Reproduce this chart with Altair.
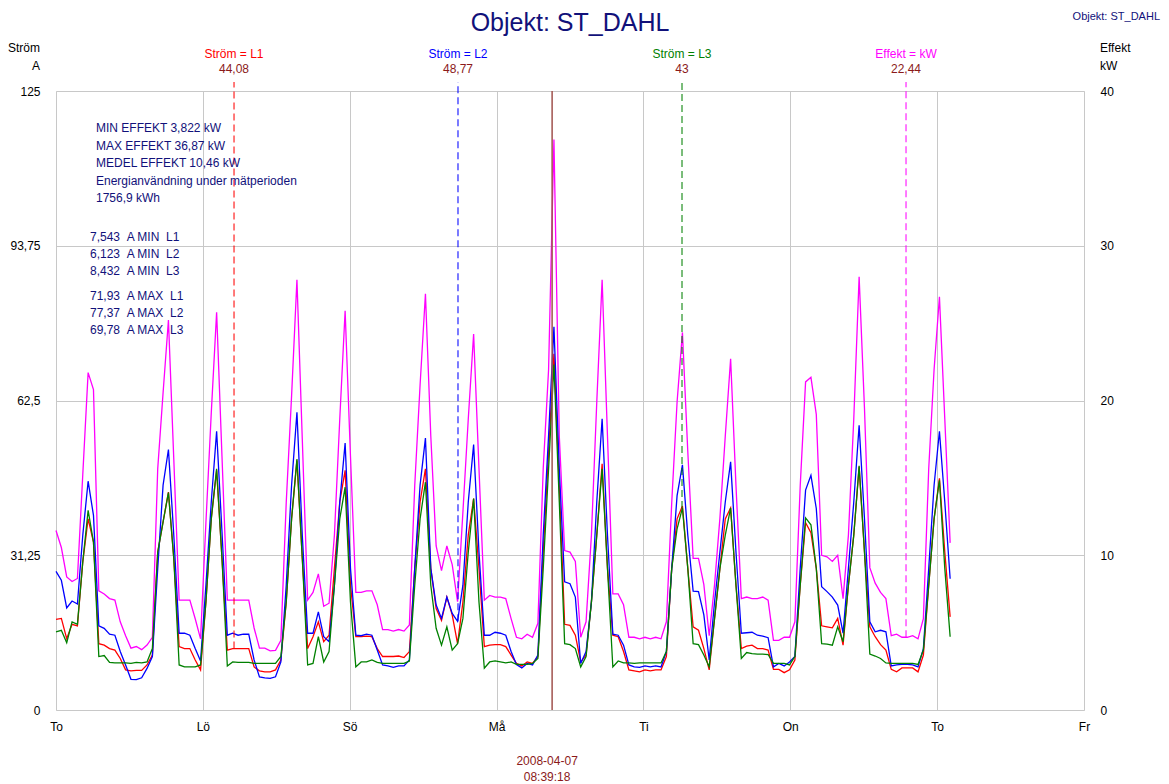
import altair as alt
import pandas as pd

# ---------------- data (hourly readings, Thu 12:00 -> next Thu 11:00) ----------------
hours = list(range(168))

L1 = [18.3, 18.5, 14.4, 17.3, 17.0, 29.9, 38.6, 33.9, 13.4, 13.1, 12.4, 12.1,
      10.4, 8.1, 7.9, 8.0, 8.0, 9.1, 11.1, 31.9, 38.0, 44.0, 30.6, 12.8,
      12.4, 12.4, 10.1, 8.1, 21.8, 38.6, 48.4, 30.6, 12.1, 12.4, 12.4, 12.4,
      12.4, 8.7, 7.9, 7.7, 7.7, 8.1, 10.1, 21.8, 38.6, 50.4, 30.6, 12.4,
      14.8, 17.8, 13.8, 15.1, 28.6, 42.0, 48.4, 25.2, 14.8, 14.8, 14.9, 14.8,
      12.4, 10.8, 10.8, 10.8, 10.9, 10.6, 11.8, 28.6, 42.0, 48.7, 28.6, 20.5,
      18.1, 22.8, 19.2, 13.4, 21.8, 35.3, 42.7, 28.6, 12.8, 13.1, 13.2, 13.2,
      12.8, 11.1, 9.4, 8.9, 9.7, 9.4, 10.8, 31.9, 52.1, 71.93, 45.4, 17.3,
      17.1, 15.1, 9.7, 11.1, 21.8, 35.3, 49.7, 28.6, 15.1, 14.8, 11.8, 8.1,
      7.9, 7.7, 8.1, 7.9, 8.1, 8.1, 10.8, 28.6, 38.6, 41.2, 28.6, 16.8,
      16.1, 12.4, 8.1, 18.5, 28.6, 38.6, 40.8, 25.2, 12.4, 12.9, 13.1, 12.4,
      12.4, 12.1, 8.2, 8.2, 7.54, 8.1, 10.1, 25.2, 37.8, 35.8, 28.6, 17.0,
      16.8, 16.6, 18.5, 13.1, 25.2, 35.3, 49.1, 31.9, 16.8, 14.8, 13.2, 12.1,
      8.2, 7.7, 8.5, 8.5, 8.5, 7.7, 11.1, 25.2, 38.6, 46.8, 31.9, 18.8]

L2 = [28.0, 26.2, 20.6, 22.0, 21.4, 35.3, 46.2, 39.3, 17.0, 16.5, 15.3, 15.1,
      11.8, 9.1, 6.2, 6.12, 6.5, 8.4, 10.8, 28.6, 45.4, 52.6, 35.3, 15.5,
      15.5, 15.1, 12.4, 9.9, 25.2, 42.0, 56.3, 36.0, 15.1, 15.5, 15.1, 15.3,
      15.3, 10.1, 6.7, 6.5, 6.4, 6.7, 9.7, 25.2, 45.4, 60.1, 35.3, 15.5,
      15.5, 19.8, 14.8, 13.8, 25.2, 42.0, 53.9, 28.6, 15.1, 15.0, 15.3, 15.1,
      12.1, 9.1, 8.9, 8.6, 8.9, 8.9, 10.1, 28.6, 45.4, 54.9, 28.6, 21.2,
      18.5, 22.8, 19.5, 17.9, 25.2, 42.0, 53.6, 31.9, 15.1, 15.1, 15.7, 15.5,
      15.1, 11.8, 9.2, 8.5, 9.4, 9.1, 11.1, 35.3, 55.4, 77.37, 48.7, 25.9,
      25.5, 22.8, 9.4, 11.8, 21.8, 42.0, 58.8, 35.3, 15.3, 15.1, 13.1, 9.1,
      8.7, 8.6, 8.9, 8.7, 8.9, 8.7, 11.8, 28.6, 43.3, 49.5, 35.3, 24.0,
      23.9, 19.2, 10.1, 21.8, 31.9, 42.0, 50.1, 31.9, 15.5, 15.6, 15.7, 15.1,
      14.9, 14.6, 8.7, 9.4, 8.9, 9.7, 10.8, 28.6, 44.4, 47.4, 40.7, 24.9,
      23.9, 22.8, 21.2, 15.5, 28.6, 42.0, 57.5, 38.6, 17.8, 15.8, 16.1, 15.8,
      8.9, 9.1, 9.2, 9.2, 9.1, 8.7, 12.4, 28.6, 45.4, 56.3, 42.0, 26.5]

L3 = [15.8, 16.1, 13.6, 17.8, 17.3, 29.9, 40.3, 33.9, 10.8, 11.0, 9.6, 9.5,
      9.5, 9.5, 9.4, 9.6, 9.5, 9.7, 12.4, 31.9, 38.0, 43.9, 30.6, 9.1,
      8.7, 8.7, 8.7, 9.1, 21.8, 38.6, 48.7, 30.6, 8.9, 9.7, 9.6, 9.6,
      9.6, 9.4, 9.4, 9.4, 9.4, 9.4, 10.8, 21.8, 38.6, 50.7, 30.6, 9.1,
      9.4, 14.8, 9.7, 11.8, 25.2, 38.6, 45.0, 21.8, 8.7, 9.7, 9.7, 10.1,
      9.6, 9.4, 9.4, 9.4, 9.4, 9.4, 9.9, 25.2, 38.6, 46.0, 25.2, 16.5,
      13.1, 16.8, 12.1, 13.4, 18.5, 31.9, 42.7, 21.8, 8.43, 9.7, 9.9, 9.7,
      9.5, 9.7, 9.2, 9.2, 9.2, 9.4, 10.4, 28.6, 48.7, 69.78, 42.0, 13.4,
      13.2, 12.4, 8.7, 10.8, 21.8, 35.3, 48.7, 28.6, 8.7, 9.9, 9.5, 9.5,
      9.4, 9.5, 9.5, 9.5, 9.5, 9.5, 11.8, 28.6, 36.6, 40.8, 28.6, 13.4,
      13.2, 11.1, 8.7, 18.5, 28.6, 35.3, 40.8, 25.2, 10.4, 11.6, 11.4, 11.3,
      11.3, 11.2, 9.4, 9.4, 9.4, 9.1, 10.8, 25.2, 38.8, 37.4, 28.6, 13.4,
      13.3, 13.1, 16.8, 13.8, 25.2, 35.3, 49.3, 31.9, 11.3, 10.9, 10.4, 9.5,
      9.4, 9.4, 9.4, 9.4, 9.4, 9.2, 12.1, 25.2, 38.6, 46.4, 28.6, 14.8]

KW = [11.6, 10.5, 8.6, 8.3, 8.5, 15.2, 21.8, 20.7, 7.7, 7.5, 7.2, 7.1,
      5.7, 4.8, 4.0, 4.1, 3.9, 4.2, 4.7, 15.6, 20.5, 25.2, 16.2, 7.1,
      7.1, 7.1, 5.9, 4.6, 12.1, 19.2, 25.7, 16.4, 7.1, 7.1, 7.1, 7.1,
      7.1, 5.3, 4.0, 4.0, 3.82, 3.85, 4.5, 13.4, 20.3, 27.8, 17.5, 7.1,
      7.6, 8.8, 6.7, 6.9, 11.3, 18.8, 25.8, 16.4, 7.6, 7.6, 7.7, 7.7,
      6.8, 5.2, 5.2, 5.1, 5.2, 5.1, 5.5, 14.5, 21.0, 26.9, 17.7, 10.6,
      9.0, 10.6, 9.4, 7.0, 12.8, 18.8, 24.3, 15.6, 7.1, 7.4, 7.3, 7.3,
      7.2, 5.9, 4.7, 4.6, 4.9, 4.7, 5.6, 15.6, 22.0, 36.87, 17.7, 10.3,
      10.2, 9.6, 4.7, 5.7, 11.3, 19.9, 27.8, 17.7, 7.5, 7.5, 6.8, 4.7,
      4.7, 4.6, 4.7, 4.6, 4.7, 4.6, 5.7, 13.4, 19.9, 24.4, 16.7, 9.8,
      9.8, 8.1, 4.8, 8.1, 12.4, 17.7, 22.7, 14.5, 7.2, 7.3, 7.2, 7.2,
      7.3, 7.1, 4.5, 4.5, 4.7, 4.7, 5.7, 14.5, 21.2, 21.5, 19.1, 10.0,
      9.9, 9.6, 10.0, 7.2, 11.3, 18.8, 28.0, 19.5, 9.2, 8.2, 7.6, 7.2,
      4.8, 4.9, 4.7, 4.7, 4.8, 4.6, 5.9, 15.6, 22.0, 26.7, 18.8, 10.8]

day_labels = ["To", "Lö", "Sö", "Må", "Ti", "On", "To", "Fr"]
day_ticks = [k * 192 / 7 for k in range(8)]
amp_ticks = [0, 31.25, 62.5, 93.75, 125]
kw_ticks = [0, 10, 20, 30, 40]

marker_series = ["L1", "L2", "L3", "kW"]
marker_hours = [33.25, 75.08, 116.92, 158.76]
marker_ends = [12.4, 17.9, 40.8, 4.7]
marker_titles = ["Ström = L1", "Ström = L2", "Ström = L3", "Effekt = kW"]
marker_readings = ["44,08", "48,77", "43", "22,44"]

cursor_hour = [92.66]
cursor_date = "2008-04-07"
cursor_time = "08:39:18"

stats_effekt = ["MIN EFFEKT 3,822 kW", "MAX EFFEKT 36,87 kW", "MEDEL EFFEKT 10,46 kW",
                "Energianvändning under mätperioden", "1756,9 kWh"]
NB = "\u00a0"
stats_min = [f"7,543{NB}{NB}A MIN{NB}{NB}L1", f"6,123{NB}{NB}A MIN{NB}{NB}L2", f"8,432{NB}{NB}A MIN{NB}{NB}L3"]
stats_max = [f"71,93{NB}{NB}A MAX{NB}{NB}L1", f"77,37{NB}{NB}A MAX{NB}{NB}L2", f"69,78{NB}{NB}A MAX{NB}{NB}L3"]

title_text = "Objekt: ST_DAHL"

# ---------------- frames ----------------
df_a = pd.DataFrame({
    "hour": hours * 3,
    "value": L1 + L2 + L3,
    "series": ["L1"] * 168 + ["L2"] * 168 + ["L3"] * 168,
})
df_k = pd.DataFrame({"hour": hours, "kw": KW})
df_markA = pd.DataFrame({"hour": marker_hours[:3], "value": marker_ends[:3], "series": marker_series[:3]})
df_markK = pd.DataFrame({"hour": marker_hours[3:], "kw": marker_ends[3:], "series": marker_series[3:]})
df_lab = pd.DataFrame({"hour": marker_hours, "title": marker_titles,
                       "reading": marker_readings, "series": marker_series})
df_cur = pd.DataFrame({"hour": cursor_hour})
df_one = pd.DataFrame({"k": [0]})

NAVY = "#11117a"
DARKRED = "#8b1a1a"
FONT = "Liberation Sans"

color_scale = alt.Scale(domain=["L1", "L2", "L3", "kW"],
                        range=["#ff0000", "#0000ff", "#008000", "#ff00ff"])

X = alt.X("hour:Q",
          scale=alt.Scale(domain=[0, 192], nice=False, zero=False),
          axis=alt.Axis(values=day_ticks, title=None, grid=True, gridColor="#c8c8c8",
                        domain=False, ticks=False, labelPadding=11, labelFontSize=12,
                        labelFlush=False, labelColor="black", labelFont=FONT,
                        labelExpr="['To','Lö','Sö','Må','Ti','On','To','Fr'][round(datum.value*7/192)]"))

YA = alt.Y("value:Q",
           scale=alt.Scale(domain=[0, 125], nice=False, zero=True),
           axis=alt.Axis(values=amp_ticks, orient="left", title=None, grid=True,
                         gridColor="#c8c8c8", domain=False, ticks=False, labelPadding=16,
                         labelFontSize=12, labelColor="black", labelFont=FONT,
                         labelExpr="replace(toString(datum.value), '.', ',')"))

YK = alt.Y("kw:Q",
           scale=alt.Scale(domain=[0, 40], nice=False, zero=True),
           axis=alt.Axis(values=kw_ticks, orient="right", title=None, grid=False,
                         domain=False, ticks=False, labelPadding=16, labelFontSize=12,
                         labelColor="black", labelFont=FONT))

COLOR = alt.Color("series:N", scale=color_scale, legend=None)

# ---------------- current layer (A) ----------------
lines_a = alt.Chart(df_a).mark_line(strokeWidth=1.3).encode(x=X, y=YA, color=COLOR, detail="series:N")

mark_a = alt.Chart(df_markA).mark_rule(strokeDash=[7, 4], strokeWidth=1.3, opacity=0.8).encode(
    x=X, y=YA, y2=alt.value(-9), color=COLOR)

lab_title = alt.Chart(df_lab).mark_text(fontSize=12, font=FONT, baseline="middle").encode(
    x=X, y=alt.value(-37), text="title:N", color=COLOR)
lab_read = alt.Chart(df_lab).mark_text(fontSize=12, font=FONT, baseline="middle", color=DARKRED).encode(
    x=X, y=alt.value(-22), text="reading:N")

cursor = alt.Chart(df_cur).mark_rule(color="#a0524d", strokeWidth=1.5).encode(x=X)
cur_date = alt.Chart(df_cur).mark_text(fontSize=12, font=FONT, color=DARKRED, dx=-5,
                                       baseline="middle").encode(
    x=X, y=alt.value(670), text=alt.value(cursor_date))
cur_time = alt.Chart(df_cur).mark_text(fontSize=12, font=FONT, color=DARKRED, dx=-5,
                                       baseline="middle").encode(
    x=X, y=alt.value(686), text=alt.value(cursor_time))

def txt(text, x, y, **kw):
    return alt.Chart(df_one).mark_text(font=FONT, **kw).encode(
        x=alt.value(x), y=alt.value(y), text=alt.value(text))

title = txt(title_text, 514, -68, fontSize=25, color=NAVY, align="center", baseline="middle")
title_small = txt(title_text, 1104, -74, fontSize=11, color=NAVY, align="right", baseline="middle")
ax_l1 = txt("Ström", -16, -43, fontSize=12, color="black", align="right", baseline="middle")
ax_l2 = txt("A", -16, -25, fontSize=12, color="black", align="right", baseline="middle")
ax_r1 = txt("Effekt", 1044, -43, fontSize=12, color="black", align="left", baseline="middle")
ax_r2 = txt("kW", 1044, -25, fontSize=12, color="black", align="left", baseline="middle")

stat1 = txt("\n".join(stats_effekt), 40, 32, fontSize=12, color=NAVY, align="left",
            baseline="top", lineBreak="\n", lineHeight=17.5)
stat2 = txt("\n".join(stats_min), 34, 141, fontSize=12, color=NAVY, align="left",
            baseline="top", lineBreak="\n", lineHeight=17)
stat3 = txt("\n".join(stats_max), 34, 200, fontSize=12, color=NAVY, align="left",
            baseline="top", lineBreak="\n", lineHeight=17)

layer_a = alt.layer(lines_a, mark_a, cursor, lab_title, lab_read, cur_date, cur_time,
                    title, title_small, ax_l1, ax_l2, ax_r1, ax_r2, stat1, stat2, stat3)

# ---------------- power layer (kW) ----------------
line_k = alt.Chart(df_k).mark_line(strokeWidth=1.3, color="#ff00ff").encode(x=X, y=YK)
mark_k = alt.Chart(df_markK).mark_rule(strokeDash=[7, 4], strokeWidth=1.3, opacity=0.8,
                                       color="#ff00ff").encode(x=X, y=YK, y2=alt.value(-9))
layer_k = alt.layer(line_k, mark_k)

chart = alt.layer(layer_k, layer_a).resolve_scale(y="independent").properties(
    width=1028, height=619, autosize="none",
    padding={"left": 48, "top": 83, "right": 77, "bottom": 74},
).configure_view(stroke="#b8b8b8", strokeWidth=2).configure(font=FONT)

chart.save("out.html", embed_options={"renderer": "svg", "actions": False})
